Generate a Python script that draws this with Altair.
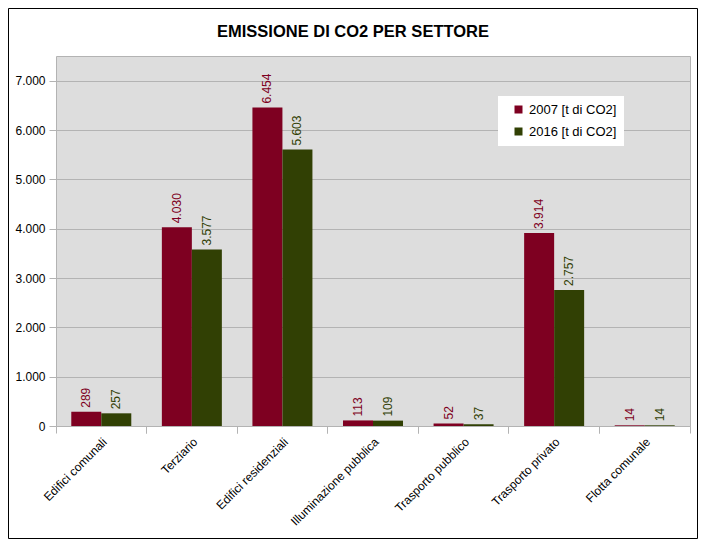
import altair as alt
import pandas as pd

categories = ["Edifici comunali", "Terziario", "Edifici residenziali",
              "Illuminazione pubblica", "Trasporto pubblico", "Trasporto privato",
              "Flotta comunale"]
series = ["2007 [t di CO2]", "2016 [t di CO2]"]
v2007 = [289, 4030, 6454, 113, 52, 3914, 14]
v2016 = [257, 3577, 5603, 109, 37, 2757, 14]
colors = ["#7e0021", "#314004"]
y_ticks = [0, 1000, 2000, 3000, 4000, 5000, 6000, 7000]
title_text = "EMISSIONE DI CO2 PER SETTORE"

rows = []
for c, a, b in zip(categories, v2007, v2016):
    rows.append({"settore": c, "serie": series[0], "valore": a})
    rows.append({"settore": c, "serie": series[1], "valore": b})
df = pd.DataFrame(rows)

W, H = 634, 370
FONT = "Liberation Sans"
GRID = "#b3b3b3"

xscale = alt.Scale(domain=categories, paddingInner=0, paddingOuter=0)
xoff = alt.XOffset("serie:N", scale=alt.Scale(domain=series, paddingInner=0, paddingOuter=0.5095))
yenc = alt.Y("valore:Q",
             scale=alt.Scale(domain=[0, 7500], nice=False),
             axis=alt.Axis(values=y_ticks, title=None,
                           labelExpr="replace(format(datum.value, ',d'), ',', '.')",
                           grid=True, gridColor=GRID, tickColor=GRID, domain=False,
                           tickSize=7, labelPadding=4, labelFontSize=12,
                           labelColor="#000000", labelFont=FONT))
color_scale = alt.Scale(domain=series, range=colors)

base = alt.Chart(df)

bars = base.mark_bar(strokeWidth=0).encode(
    x=alt.X("settore:N", scale=xscale, sort=categories,
            axis=alt.Axis(title=None, labelAngle=315, ticks=False, domain=False,
                          labelFontSize=12, labelFont=FONT, labelColor="#000000",
                          labelPadding=10, orient="bottom", labelLimit=300)),
    xOffset=xoff,
    y=yenc,
    color=alt.Color("serie:N", scale=color_scale,
                    legend=alt.Legend(title=None, orient="none", legendX=442, legendY=40,
                                      fillColor="#ffffff", padding=7, symbolOffset=7,
                                      symbolType="square", symbolSize=64,
                                      symbolStrokeWidth=0, labelFontSize=13,
                                      labelFont=FONT, labelColor="#000000",
                                      labelOffset=4, rowPadding=8)),
)

labels = base.transform_calculate(
    lab="replace(format(datum.valore, ',d'), ',', '.')"
).mark_text(angle=270, align="left", baseline="middle", dx=4,
            fontSize=12, font=FONT).encode(
    x=alt.X("settore:N", scale=xscale, sort=categories, axis=None),
    xOffset=xoff,
    y=alt.Y("valore:Q"),
    text="lab:N",
    color=alt.Color("serie:N", scale=color_scale, legend=None),
)

ticks0 = base.mark_bar(opacity=0).encode(
    x=alt.X("settore:N", scale=xscale, sort=categories,
            axis=alt.Axis(title=None, labels=False, ticks=True, tickSize=7,
                          tickColor=GRID, domain=False, grid=False,
                          bandPosition=0, orient="bottom")),
    y=alt.Y("valore:Q"),
)
ticks1 = base.mark_bar(opacity=0).encode(
    x=alt.X("settore:N", scale=xscale, sort=categories,
            axis=alt.Axis(title=None, labels=False, ticks=True, tickSize=7,
                          tickColor=GRID, domain=False, grid=False,
                          bandPosition=1, orient="bottom")),
    y=alt.Y("valore:Q"),
)

one = alt.Data(values=[{"k": 1}])

frame = alt.Chart(one).mark_rect(
    fill=None, stroke="#000000", strokeWidth=1
).encode(
    x=alt.value(-47.5), x2=alt.value(W + 7.5),
    y=alt.value(-47.5), y2=alt.value(H + 112.5),
)

title = alt.Chart(one).mark_text(
    text=title_text, fontSize=16.5, fontWeight="bold", font=FONT, color="#000000",
    align="center", baseline="alphabetic"
).encode(x=alt.value(W / 2 - 20), y=alt.value(-19))

chart = alt.layer(bars, labels, ticks0, ticks1, frame, title).resolve_axis(
    x="independent"
).properties(
    width=W, height=H,
    padding={"left": 48, "top": 48, "right": 8, "bottom": 113},
    autosize="none",
    background="#ffffff",
).configure_view(stroke=GRID, fill="#dddddd")

chart.save("out.html", embed_options={"renderer": "svg", "actions": False})
